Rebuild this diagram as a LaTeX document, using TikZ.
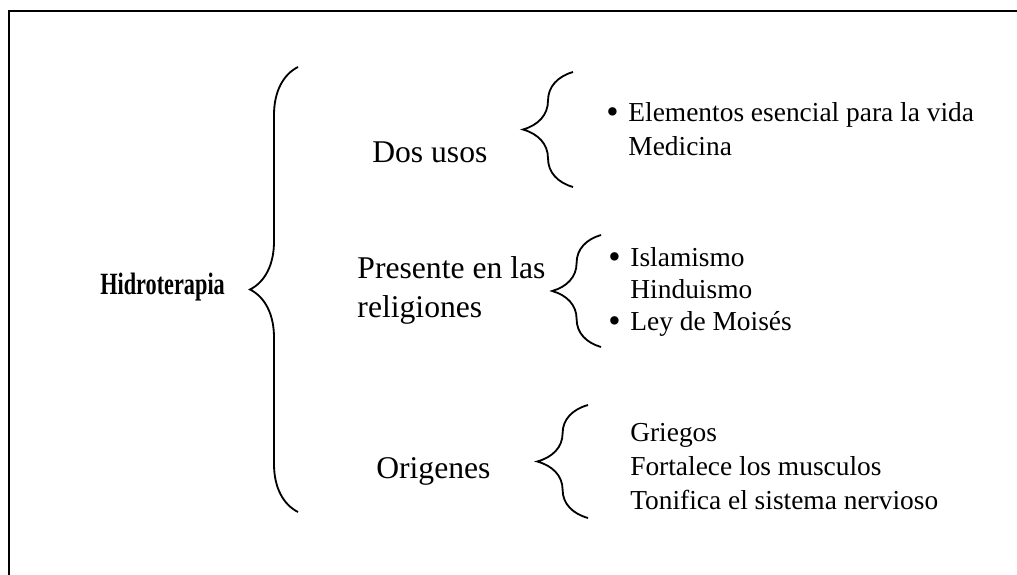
\documentclass[tikz,border=0pt]{standalone}
\usepackage{fontspec}
\setmainfont{Liberation Serif}
\usetikzlibrary{decorations.pathreplacing}
\newcommand{\blt}{\raisebox{-1.6pt}{\fontsize{25}{25}\selectfont\textbullet}}

\begin{document}
\begin{tikzpicture}[
  ttl/.style={font=\fontsize{22}{26}\selectfont\bfseries, inner sep=0pt},
  lbl/.style={font=\fontsize{22.5}{28.4}\selectfont, inner sep=0pt},
  itm/.style={inner sep=0pt},
  brc/.style={decorate, decoration={brace, amplitude=#1}, line width=1.3pt},
  frm/.style={line width=1.4pt}]
\useasboundingbox (0,0) rectangle (25.425,-14.375);
% frame (top and left side only)
\coordinate (f1) at (25.425,-0.275);
\coordinate (f2) at (0.225,-0.275);
\coordinate (f3) at (0.225,-14.375);
\draw[frm] (f1) -- (f2) -- (f3);
% root
\node[ttl, anchor=base west] (hidro) at (2.5,-7.35) {\scalebox{0.72}[1]{Hidroterapia}};
\coordinate (b0a) at (7.45,-12.8);
\coordinate (b0b) at (7.45,-1.675);
\draw[brc=1.2cm] (b0a) -- (b0b);
% first branch
\node[lbl, anchor=base west] (dos) at (9.3,-4.05) {Dos usos};
\coordinate (b1a) at (14.325,-4.675);
\coordinate (b1b) at (14.325,-1.8);
\draw[brc=1.25cm] (b1a) -- (b1b);
\node[itm, anchor=base west] (usos) at (15.15,-3.025) {\fontsize{19.5}{24.2}\selectfont
  \begin{tabular}[t]{@{}l@{\hspace{7pt}}l@{}}
  \blt & Elementos esencial para la vida\\
   & Medicina
  \end{tabular}};
% second branch
\node[lbl, anchor=base west] (pres) at (8.93,-6.95) {\begin{tabular}[t]{@{}l@{}}
  Presente en las\\ religiones\end{tabular}};
\coordinate (b2a) at (15.025,-8.675);
\coordinate (b2b) at (15.025,-5.875);
\draw[brc=1.22cm] (b2a) -- (b2b);
\node[itm, anchor=base west] (relig) at (15.2,-6.65) {\fontsize{19.5}{23}\selectfont
  \begin{tabular}[t]{@{}l@{\hspace{7pt}}l@{}}
  \blt & Islamismo\\
   & Hinduismo\\
  \blt & Ley de Moisés
  \end{tabular}};
% third branch
\node[lbl, anchor=base west] (orig) at (9.4,-11.95) {Origenes};
\coordinate (b3a) at (14.7,-12.95);
\coordinate (b3b) at (14.7,-10.125);
\draw[brc=1.27cm] (b3a) -- (b3b);
\node[itm, anchor=base west] (griegos) at (15.75,-11.03) {\fontsize{19.5}{24.2}\selectfont
  \begin{tabular}[t]{@{}l@{}}
  Griegos\\
  Fortalece los musculos\\
  Tonifica el sistema nervioso
  \end{tabular}};
\end{tikzpicture}
\end{document}
